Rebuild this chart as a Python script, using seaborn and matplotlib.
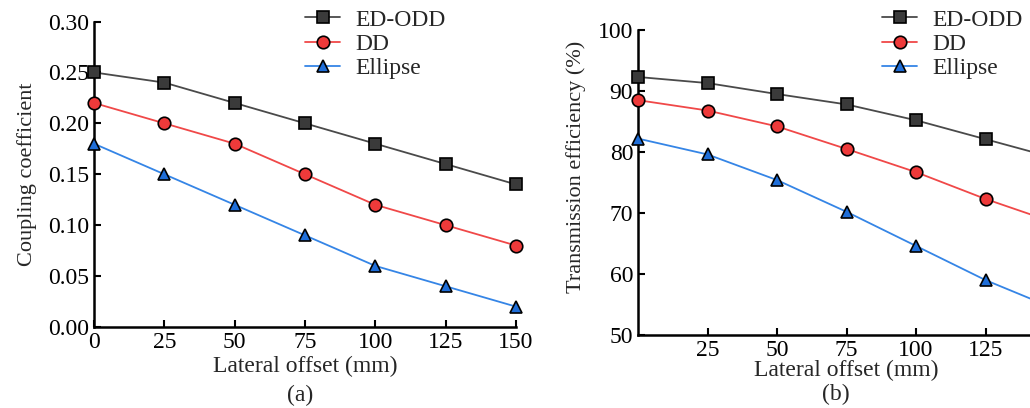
import numpy as np
import seaborn as sns
import matplotlib.pyplot as plt

# lateral offsets (mm)
offset = [0, 25, 50, 75, 100, 125, 150]

# (a) coupling coefficient
k_edodd = [0.25, 0.24, 0.22, 0.20, 0.18, 0.16, 0.14]
k_dd = [0.22, 0.20, 0.18, 0.15, 0.12, 0.10, 0.08]
k_ellipse = [0.18, 0.15, 0.12, 0.09, 0.06, 0.04, 0.02]

# (b) transmission efficiency (%)
eff_edodd = [92.3, 91.3, 89.5, 87.8, 85.2, 82.1, 79.0]
eff_dd = [88.5, 86.8, 84.2, 80.5, 76.7, 72.3, 68.4]
eff_ellipse = [82.2, 79.6, 75.4, 70.2, 64.6, 59.0, 54.3]

labels = ['ED-ODD', 'DD', 'Ellipse']

sns.set_style('ticks')
plt.rcParams['font.family'] = ['Liberation Serif', 'DejaVu Serif']
plt.rcParams['font.size'] = 17

styles = [
    dict(color='#4a4a4a', marker='s', mfc='#3a3a3a'),
    dict(color='#f04848', marker='o', mfc='#ee3a3a'),
    dict(color='#3585e6', marker='^', mfc='#1f6ed8'),
]

fig = plt.figure(figsize=(10.30, 4.08), dpi=100)
ax1 = fig.add_axes([94 / 1030, 1 - 327 / 408, 422 / 1030, 305.5 / 408])
# panel (b) runs past the right edge of the picture, as in the reference
ax2 = fig.add_axes([638 / 1030, 1 - 335 / 408, 417 / 1030, 305 / 408])


def draw(ax, series):
    for y, lab, st in zip(series, labels, styles):
        sns.lineplot(x=offset, y=y, ax=ax, label=lab, color=st['color'],
                     marker=st['marker'], markersize=9, markerfacecolor=st['mfc'],
                     markeredgecolor='black', markeredgewidth=1.2, linewidth=1.3,
                     clip_on=False, zorder=3)
    for s in ['top', 'right']:
        ax.spines[s].set_visible(False)
    for s in ['left', 'bottom']:
        ax.spines[s].set_linewidth(1.8)
        ax.spines[s].set_color('black')
    ax.tick_params(direction='in', length=5, width=1.5, labelsize=17, colors='black')
    ax.set_xlim(0, 150)


draw(ax1, [k_edodd, k_dd, k_ellipse])
ax1.set_ylim(0, 0.30)
ax1.set_yticks(np.arange(0, 0.31, 0.05))
ax1.set_yticklabels([f'{v:.2f}' for v in np.arange(0, 0.31, 0.05)])
ax1.set_xticks(offset)
ax1.set_ylabel('Coupling coefficient', fontsize=16, labelpad=8)
ax1.set_xlabel('Lateral offset (mm)', fontsize=17, labelpad=2)

draw(ax2, [eff_edodd, eff_dd, eff_ellipse])
ax2.set_ylim(50, 100)
ax2.set_yticks(range(50, 101, 10))
ax2.set_xticks(offset[1:6])
ax2.set_ylabel('Transmission efficiency (%)', fontsize=16)
ax2.yaxis.set_label_coords(-0.125, 0.55)
ax2.set_xlabel('Lateral offset (mm)', fontsize=17)
ax2.xaxis.set_label_coords(0.5, -0.083)

for ax, xa in [(ax1, 305 / 1030), (ax2, 882 / 1030)]:
    ax.get_legend().remove()
    h, l = ax.get_legend_handles_labels()
    fig.legend(h, l, loc='upper left', bbox_to_anchor=(xa, 0.978),
               frameon=False, fontsize=17, handlelength=1.5, handletextpad=0.64,
               labelspacing=0.12, borderpad=0, borderaxespad=0)

fig.text(300 / 1030, 1 - 395 / 408, '(a)', ha='center', va='center', fontsize=17)
fig.text(836 / 1030, 1 - 394 / 408, '(b)', ha='center', va='center', fontsize=17)

fig.savefig('out.png', dpi=100)
